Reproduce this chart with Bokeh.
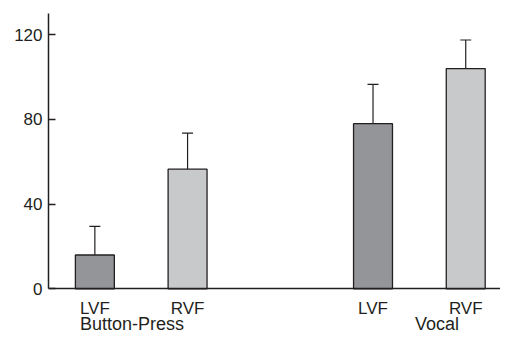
from bokeh.plotting import figure
from bokeh.models import ColumnDataSource, Range1d, FixedTicker, Whisker, TeeHead
from bokeh.core.properties import value
from bokeh.embed import file_html
from bokeh.resources import INLINE

# ---- data ----
conditions = ["Button-Press", "Vocal"]
fields = ["LVF", "RVF"]
means = [16, 56.5, 78, 104]
errors = [13.5, 17, 18.5, 13.5]
y_ticks = [0, 40, 80, 120]
group_label_x = [1.4, 4.69]

FONT = "Liberation Sans"
INK = "#231f20"
fill_colors = {"LVF": "#939598", "RVF": "#c8c9cb"}

xs, labels, colors = [], [], []
for gi, g in enumerate(conditions):
    for fi, f in enumerate(fields):
        xs.append(gi * 3 + fi + 1)
        labels.append(f)
        colors.append(fill_colors[f])

src = ColumnDataSource(dict(
    x=xs, top=means, upper=[m + e for m, e in zip(means, errors)],
    color=colors,
))

p = figure(width=500, height=335, output_backend="svg", toolbar_location=None,
           x_range=Range1d(0.5, 5.375), y_range=Range1d(-22, 130),
           min_border_left=48, min_border_right=0, min_border_top=13,
           min_border_bottom=0)
p.outline_line_color = None
p.xgrid.visible = False
p.ygrid.visible = False

p.vbar(x="x", top="top", bottom=0, width=0.42, source=src,
       fill_color="color", line_color=INK, line_width=1.3)

w = Whisker(base="x", lower="top", upper="upper", source=src,
            line_color=INK, line_width=1.2,
            upper_head=TeeHead(size=11, line_color=INK, line_width=1.2),
            lower_head=None)
p.add_layout(w)

# y axis
ya = p.yaxis[0]
ya.ticker = FixedTicker(ticks=y_ticks)
ya.bounds = (0, 130)
ya.minor_tick_line_color = None
ya.major_tick_in = 7
ya.major_tick_out = 0
ya.major_tick_line_color = INK
ya.major_tick_line_width = 1.3
ya.axis_line_color = INK
ya.axis_line_width = 1.5
ya.major_label_text_font = FONT
ya.major_label_text_font_size = "17px"
ya.major_label_text_color = INK
ya.major_label_standoff = 6

# x axis, drawn at y = 0
xa = p.xaxis[0]
xa.fixed_location = 0
xa.ticker = FixedTicker(ticks=xs)
xa.major_label_overrides = {x: l for x, l in zip(xs, labels)}
xa.minor_tick_line_color = None
xa.major_tick_in = 0
xa.major_tick_out = 0
xa.axis_line_color = INK
xa.axis_line_width = 1.5
xa.major_label_text_font = FONT
xa.major_label_text_font_size = "17px"
xa.major_label_text_color = INK
xa.major_label_standoff = 10

gsrc = ColumnDataSource(dict(x=group_label_x, y=[-16.5] * 2, text=conditions))
p.text(x="x", y="y", text="text", source=gsrc, text_align="center",
       text_baseline="middle", text_font=value(FONT),
       text_font_size="18px", text_color=INK)

open("out.html", "w").write(file_html(p, INLINE))
